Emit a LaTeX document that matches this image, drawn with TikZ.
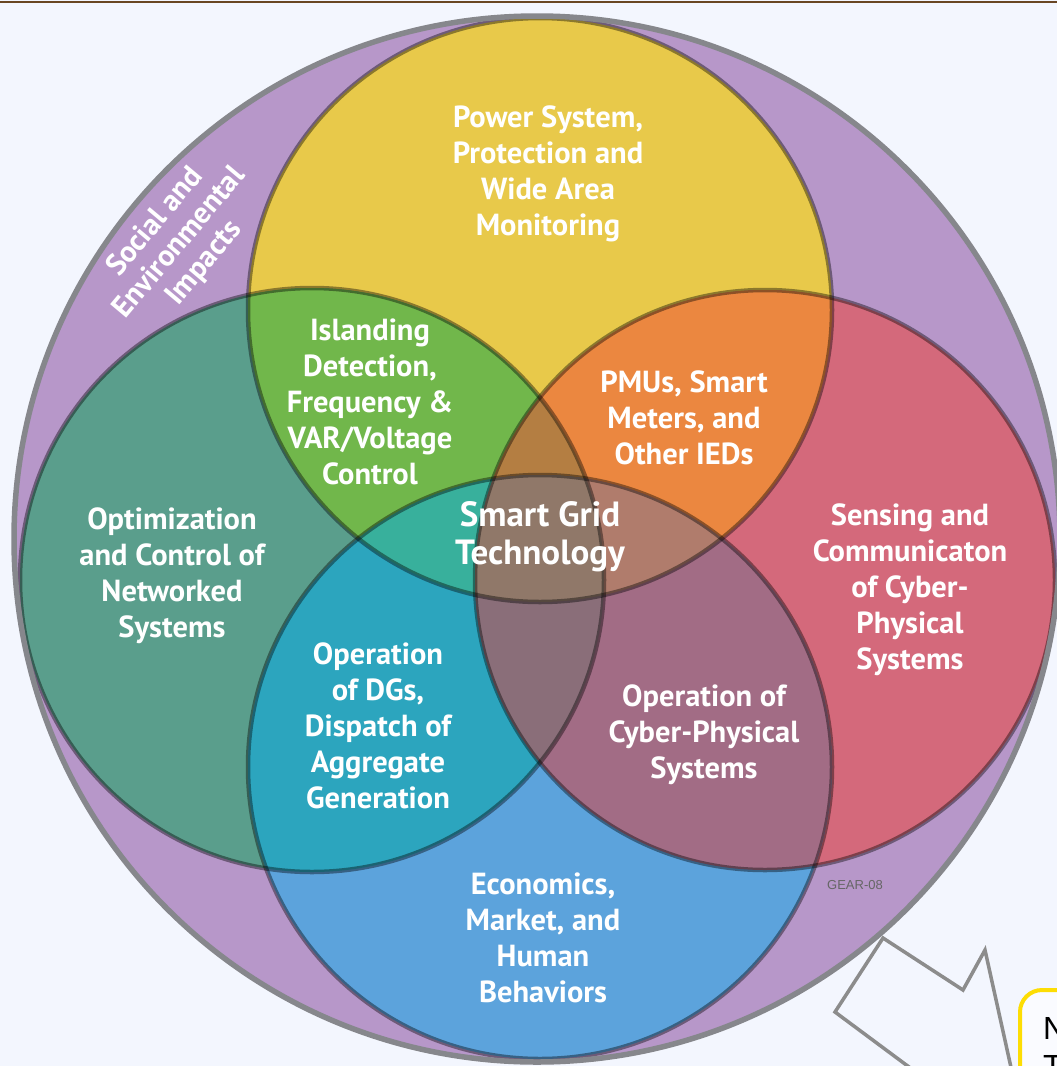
\documentclass[tikz,border=0pt]{standalone}
\usepackage{fontspec}
\setmainfont{PT Sans}
\newfontfamily\notefont{Liberation Sans}

\definecolor{paper}{HTML}{F3F6FE}
\definecolor{social}{HTML}{B797C9}
\definecolor{power}{HTML}{E8C94A}
\definecolor{optim}{HTML}{5A9E8C}
\definecolor{sensing}{HTML}{D4697B}
\definecolor{econ}{HTML}{5CA3DC}
\definecolor{island}{HTML}{71B74B}
\definecolor{pmu}{HTML}{EB8740}
\definecolor{dgs}{HTML}{2CA5BE}
\definecolor{cps}{HTML}{A26C85}
\definecolor{ytr}{HTML}{B47E42}
\definecolor{ytb}{HTML}{38B09C}
\definecolor{yrb}{HTML}{B07C6C}
\definecolor{trb}{HTML}{8A6E79}
\definecolor{core}{HTML}{907869}

\begin{document}
\begin{tikzpicture}[x=1pt,y=-1pt]
        \tikzstyle{topic}=[text=white,align=center,inner sep=0pt,font=\bfseries\fontsize{30.5}{36}\selectfont]
        \tikzstyle{ring}=[draw=black,draw opacity=0.4,line width=4.5pt]
        \def\circY{(540,310) circle (292)}
        \def\circT{(312,580) circle (292)}
        \def\circR{(765,580) circle (290)}
        \def\circB{(540,767) circle (292)}

        \useasboundingbox (0,0) rectangle (1057,1066);
        \fill[paper] (0,0) rectangle (1057,1066);
        \draw[line width=2pt,color=black!45!brown] (0,1.5) -- (1057,1.5);

        % social and environmental ring
        \fill[social] (537,539) circle (523);

        % single circles
        \fill[power] \circY;
        \fill[optim] \circT;
        \fill[sensing] \circR;
        \fill[econ] \circB;

        % overlaps of two
        \begin{scope} \clip \circY; \fill[island] \circT; \fill[pmu] \circR; \end{scope}
        \begin{scope} \clip \circB; \fill[dgs] \circT; \fill[cps] \circR; \end{scope}

        % overlaps of three
        \begin{scope} \clip \circY; \clip \circT; \fill[ytr] \circR; \end{scope}
        \begin{scope} \clip \circY; \clip \circT; \fill[ytb] \circB; \end{scope}
        \begin{scope} \clip \circY; \clip \circR; \fill[yrb] \circB; \end{scope}
        \begin{scope} \clip \circT; \clip \circR; \fill[trb] \circB; \end{scope}

        % centre
        \begin{scope} \clip \circY; \clip \circT; \clip \circR; \fill[core] \circB; \end{scope}

        \draw[ring] \circY;
        \draw[ring] \circT;
        \draw[ring] \circR;
        \draw[ring] \circB;
        \draw[line width=5.5pt,color=black!45!paper] (537,539) circle (523);

        \node [topic] (power) at (548,174) {Power System,\\Protection and\\Wide Area\\Monitoring};
        \node [topic] (island) at (370,402) {Islanding\\Detection,\\Frequency \&\\VAR/Voltage\\Control};
        \node [topic] (pmu) at (684,418) {PMUs, Smart\\Meters, and\\Other IEDs};
        \node [topic,font=\bfseries\fontsize{35}{38}\selectfont] (core) at (540,537) {Smart Grid\\Technology};
        \node [topic] (optim) at (172,576) {Optimization\\and Control of\\Networked\\Systems};
        \node [topic] (sensing) at (910,590) {Sensing and\\Communicaton\\of Cyber-\\Physical\\Systems};
        \node [topic] (dgs) at (378,726) {Operation\\of DGs,\\Dispatch of\\Aggregate\\Generation};
        \node [topic] (cps) at (704,735) {Operation of\\Cyber-Physical\\Systems};
        \node [topic] (econ) at (543,938) {Economics,\\Market, and\\Human\\Behaviors};
        \node [topic,rotate=50,font=\bfseries\fontsize{30}{32}\selectfont] (social) at (180,243) {Social and\\Environmental\\Impacts};
        \node [text=black!60,font=\notefont\fontsize{13}{15}\selectfont] (gear) at (855,885) {GEAR-08};

        % call-out
        \draw[line width=3.5pt,color=black!45,fill=paper,line join=miter]
          (883,938) -- (963,990) -- (985,950) -- (1016,1090) -- (940,1090) -- (835,1012) -- cycle;
        \draw[line width=4pt,draw=yellow!80!orange,fill=paper!40!white,rounded corners=22pt]
          (1020,990) rectangle (1200,1200);
        \node [anchor=north west,align=left,inner sep=0pt,font=\notefont\fontsize{32}{38}\selectfont] (note) at (1043,1017) {N\\T};
\end{tikzpicture}
\end{document}
